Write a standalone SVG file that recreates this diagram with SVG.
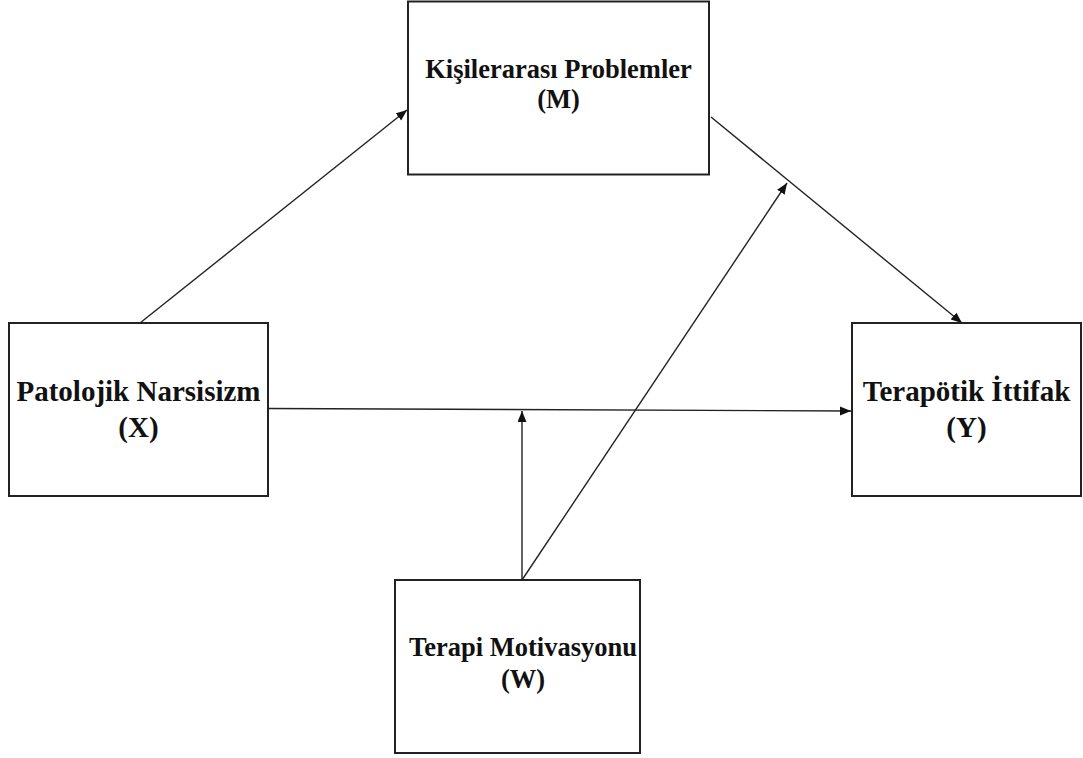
<svg xmlns="http://www.w3.org/2000/svg" width="1083" height="758" viewBox="0 0 1083 758">
<style>
.box{fill:#fff;stroke:#222;stroke-width:2}
.lbl{font-family:"Liberation Serif","Times New Roman",serif;font-weight:bold;fill:#111;text-anchor:middle}
.big{font-size:29px}
.sm{font-size:26.5px}
.con{stroke:#222;stroke-width:1.4;fill:none;marker-end:url(#ah)}
</style>
<defs>
<marker id="ah" markerUnits="userSpaceOnUse" markerWidth="12" markerHeight="10" refX="11" refY="4.5" orient="auto">
<path d="M0,0 L11,4.5 L0,9 Z" fill="#111"/>
</marker>
</defs>
<rect width="1083" height="758" fill="#fff"/>
<g id="connectors">
<line class="con" x1="140" y1="323" x2="407" y2="110"/>
<line class="con" x1="711" y1="117" x2="962" y2="323"/>
<line class="con" x1="522" y1="580" x2="787" y2="183"/>
<line class="con" x1="522" y1="580" x2="522" y2="411"/>
<line class="con" x1="268" y1="408.5" x2="851" y2="411"/>
</g>
<g id="nodeM">
<rect class="box" x="408" y="1.5" width="301" height="173"/>
<text class="lbl sm" x="558.5" y="78">Kişilerarası Problemler</text>
<text class="lbl sm" x="558.5" y="108">(M)</text>
</g>
<g id="nodeX">
<rect class="box" x="9" y="323" width="259" height="173"/>
<text class="lbl big" x="138.5" y="401">Patolojik Narsisizm</text>
<text class="lbl big" x="138.5" y="437">(X)</text>
</g>
<g id="nodeY">
<rect class="box" x="852" y="323" width="229" height="173"/>
<text class="lbl big" x="966.5" y="401">Terapötik İttifak</text>
<text class="lbl big" x="966.5" y="437">(Y)</text>
</g>
<g id="nodeW">
<rect class="box" x="395" y="580" width="245" height="173"/>
<text class="lbl sm" x="523" y="656">Terapi Motivasyonu</text>
<text class="lbl sm" x="523" y="688">(W)</text>
</g>
</svg>
